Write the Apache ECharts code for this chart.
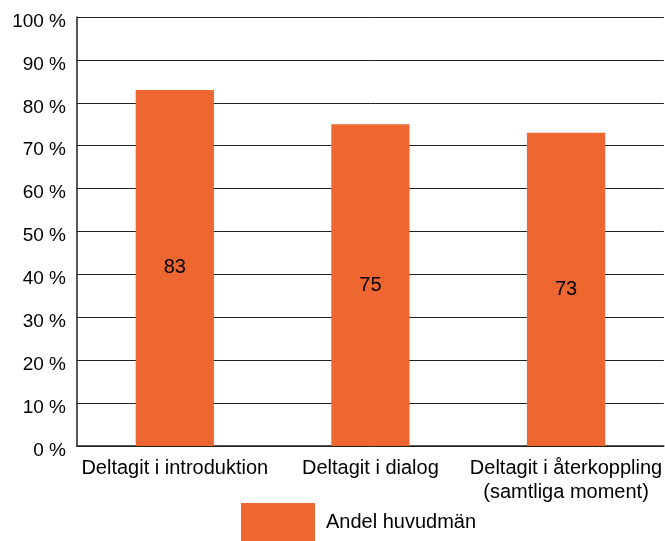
<!DOCTYPE html>
<html>
<head>
<meta charset="utf-8">
<script src="https://cdn.jsdelivr.net/npm/echarts@6/dist/echarts.min.js"></script>
<style>
  html, body { margin: 0; padding: 0; background: #fff; }
  #chart { width: 665px; height: 541px; }
</style>
</head>
<body>
<div id="chart"></div>
<script>
// Data
const categories = ['Deltagit i introduktion', 'Deltagit i dialog', 'Deltagit i återkoppling\n(samtliga moment)'];
const values = [83, 75, 73];
const seriesName = 'Andel huvudmän';

const chart = echarts.init(document.getElementById('chart'));

const font = 'Liberation Sans, Arial, sans-serif';

const option = {
  animation: false,
  grid: {
    left: 77,
    right: 0,
    top: 17,
    bottom: 95
  },
  legend: {
    data: [seriesName],
    left: 236,
    top: 498,
    itemWidth: 74,
    itemHeight: 38,
    itemGap: 10,
    icon: 'rect',
    textStyle: {
      fontFamily: font,
      fontSize: 20,
      color: '#000',
      padding: [0, 0, 0, 6]
    }
  },
  xAxis: {
    type: 'category',
    data: categories,
    axisLine: { lineStyle: { color: '#222', width: 1.5 } },
    axisTick: { show: false },
    axisLabel: {
      color: '#000',
      fontFamily: font,
      fontSize: 20,
      lineHeight: 24,
      margin: 10,
      interval: 0
    }
  },
  yAxis: {
    type: 'value',
    min: 0,
    max: 100,
    interval: 10,
    axisLine: { show: true, lineStyle: { color: '#222', width: 1.5 } },
    axisTick: { show: false },
    axisLabel: {
      color: '#000',
      fontFamily: font,
      fontSize: 19,
      margin: 11,
      verticalAlign: 'top',
      lineHeight: 9,
      formatter: '{value} %'
    },
    splitLine: { lineStyle: { color: '#222', width: 1 } }
  },
  series: [
    {
      name: seriesName,
      type: 'bar',
      data: values,
      barWidth: '40%',
      itemStyle: { color: '#EE6730' },
      label: {
        show: true,
        position: 'inside',
        color: '#000',
        fontFamily: font,
        fontSize: 20
      }
    }
  ]
};

chart.setOption(option);
</script>
</body>
</html>
